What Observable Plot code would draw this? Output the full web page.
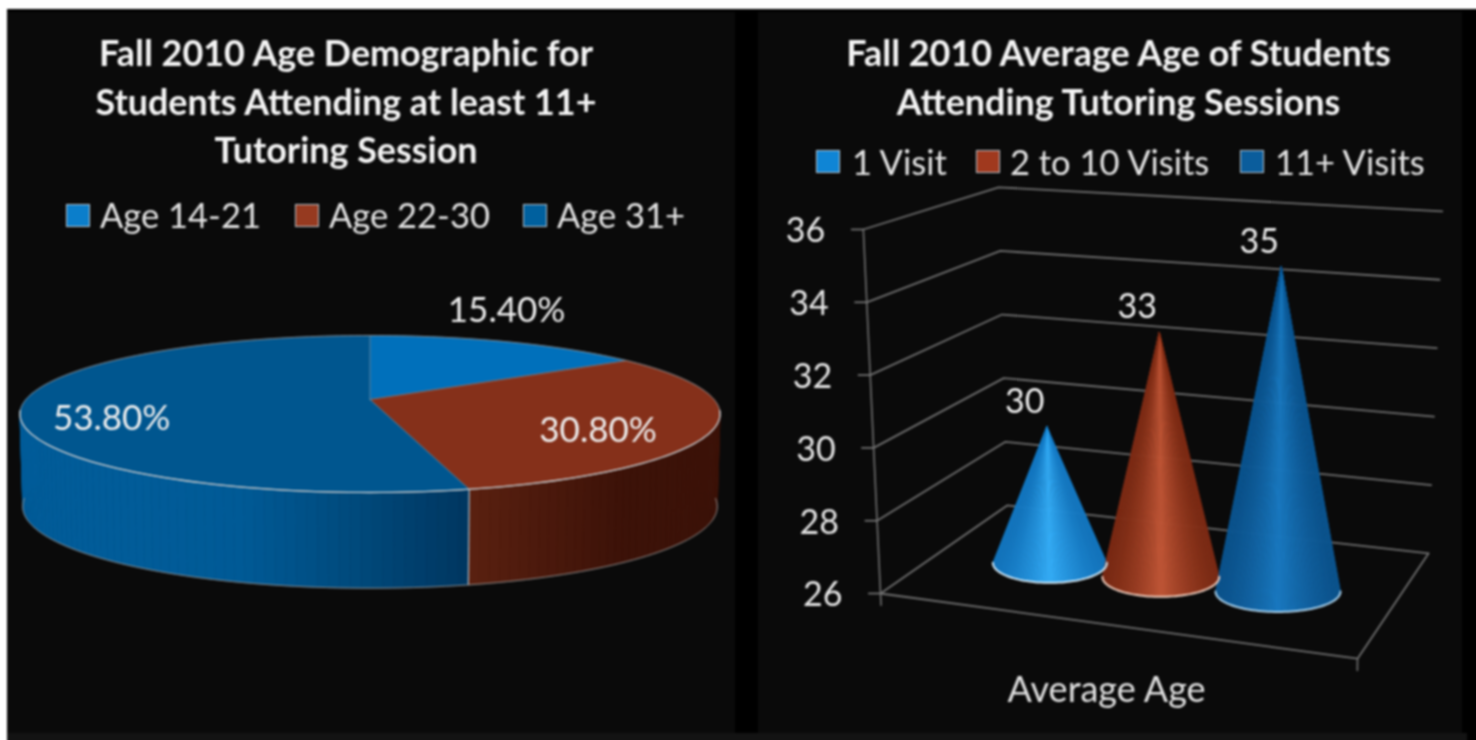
<!DOCTYPE html>
<html>
<head>
<meta charset="utf-8">
<script src="https://cdn.jsdelivr.net/npm/d3@7"></script>
<script src="https://cdn.jsdelivr.net/npm/@observablehq/plot@0.6"></script>
<style>
  html, body { margin: 0; padding: 0; background: #fff; width: 1476px; height: 740px; overflow: hidden; }
  #page { position: absolute; left: 0; top: 9px; width: 1490px; height: 745px; background: #000; filter: blur(0.8px);
          font-family: Lato, sans-serif; color: #f0f0f0; }
  .cover { position: absolute; background: #fff; left: -10px; top: 0; width: 17px; height: 745px; }
  .panel { position: absolute; top: 3px; height: 742px; background: #0a0a0a; }
  .foot { position: absolute; left: 7px; top: 724px; width: 1460px; height: 21px; background: #131313; }
  .title { position: absolute; top: 17px; transform: translateX(-50%); white-space: nowrap; text-align: center;
           font-weight: 700; font-size: 35.9px; line-height: 48.5px; color: #f4f4f4; }
  .legend-item { position: absolute; display: flex; align-items: center; height: 40px; font-size: 34.5px; white-space: nowrap; color: #e4e4e4; }
  .swatch { position: absolute; left: 0; width: 22px; height: 21px; border: 1.5px solid #b9c6cf; }
  svg { position: absolute; overflow: visible; }
</style>
</head>
<body>
<div id="page"><div class="cover"></div>
  <div class="panel" id="left" style="left:7px;width:728px"></div>
  <div class="panel" id="right" style="left:758px;width:704px"></div>
  <div class="foot"></div>
</div>
<script>
// ---- left chart data
const ageTitle = ["Fall 2010 Age Demographic for", "Students Attending at least 11+", "Tutoring Session"];
const ageGroups = ["Age 14-21", "Age 22-30", "Age 31+"];
const ageShares = [15.4, 30.8, 53.8];
const ageLabels = ["15.40%", "30.80%", "53.80%"];
const ageColors = ["#0070bb", "#85301a", "#00568f"];
const ageSwatches = ["#0b7ecb", "#963a20", "#00609e"];
// ---- right chart data
const visitTitle = ["Fall 2010 Average Age of Students", "Attending Tutoring Sessions"];
const visitGroups = ["1 Visit", "2 to 10 Visits", "11+ Visits"];
const avgAge = [30, 33, 35];
const visitSwatches = ["#0f85d5", "#a0391e", "#0b5d9c"];
const ageTicks = [26, 28, 30, 32, 34, 36];
const categoryLabel = "Average Age";

// ---- layout of the header text
function header(panel, lines, cx, items) {
  const t = document.createElement("div");
  t.className = "title"; t.style.left = cx + "px"; t.innerHTML = lines.join("<br>");
  panel.appendChild(t);
  for (const it of items) {
    const d = document.createElement("div");
    d.className = "legend-item";
    d.style.left = it.left + "px"; d.style.top = it.top + "px"; d.style.paddingLeft = it.pad + "px";
    d.textContent = it.label;
    const s = document.createElement("span");
    s.className = "swatch"; s.style.background = it.color; s.style.top = it.st + "px";
    d.appendChild(s);
    panel.appendChild(d);
  }
}
const leftPanel = document.getElementById("left"), rightPanel = document.getElementById("right");
const leftLegendX = [59, 288, 516], rightLegendX = [58, 218, 482];
header(leftPanel, ageTitle, 339, ageGroups.map((label, i) => ({label, color: ageSwatches[i], left: leftLegendX[i], top: 182, pad: 34, st: 10})));
header(rightPanel, visitTitle, 360.5, visitGroups.map((label, i) => ({label, color: visitSwatches[i], left: rightLegendX[i], top: 129, pad: [36, 34, 35][i], st: 9})));

// ---- perspective disc for the pie (unit disc, angle clockwise from the top)
const persp = 0.185, depthShift = 1.214, depthScaleY = 1.04, depthScaleX = 0.992;
const disc = (deg, r = 1) => {
  const a = deg * Math.PI / 180, u = r * Math.sin(a), v = -r * Math.cos(a), w = 1 - persp * v;
  return {x: u / w, y: v / w, v};
};
const under = (p) => ({x: p.x * depthScaleX, y: p.y * depthScaleY + depthShift, v: p.v});
let acc = 0;
const slices = ageShares.map((s, i) => {
  const start = acc / 100 * 360; acc += s; const end = acc / 100 * 360;
  return {i, start, end};
});
const arcAngles = (a, b, step = 1.5) => {
  const n = Math.max(2, Math.ceil((b - a) / step));
  return d3.range(n + 1).map(k => a + (b - a) * k / n);
};
const sidePaint = [
  () => "#000",
  (x) => d3.interpolateRgb("#5a2010", "#3c1208")(Math.min(1, x / 0.45)),
  (x) => d3.piecewise(d3.interpolateRgb, ["#003660", "#004a7c", "#005a96", "#015c99"])(Math.min(1, x / 1.0))
];
const sideQuads = [];
for (const sl of slices) {
  const as = arcAngles(sl.start, sl.end);
  for (let k = 0; k < as.length - 1; k++) {
    const p1 = disc(as[k]), p2 = disc(as[k + 1]);
    if ((p1.v + p2.v) / 2 < -0.12) continue;
    const fromSeam = Math.abs((p1.x + p2.x) / 2 - disc(slices[1].end).x);
    const color = sidePaint[sl.i](fromSeam);
    const id = sl.i + "-" + k, vm = (p1.v + p2.v) / 2;
    sideQuads.push({id, vm, color, pts: [p1, p2, under(p2), under(p1), p1]});
  }
}
sideQuads.sort((a, b) => a.vm - b.vm);
const sideRows = sideQuads.flatMap(q => q.pts.map(p => ({id: q.id, color: q.color, x: p.x, y: p.y})));
const topRows = slices.flatMap(sl => [{x: 0, y: 0}, ...arcAngles(sl.start, sl.end).map(a => disc(a)), {x: 0, y: 0}]
  .map(p => ({id: sl.i, color: ageColors[sl.i], x: p.x, y: p.y})));
const rimRows = arcAngles(0, 360).map(a => disc(a));
const frontBottom = arcAngles(95, 265).map(a => under(disc(a)));
const frontTop = arcAngles(98, 262).map(a => disc(a));
const seam = disc(slices[1].end);
const labelAt = [{x: 0.397, y: -1.17}, {x: 0.663, y: 0.41}, {x: -0.751, y: 0.25}];

const piePlot = Plot.plot({
  width: 728, height: 495, margin: 0,
  style: {background: "transparent", overflow: "visible"},
  x: {domain: [-1, 1], range: [18.5, 706.5], axis: null},
  y: {domain: [-1, 1], range: [80.2, 231.8], axis: null},
  color: {type: "identity"},
  marks: [
    Plot.line(sideRows, {x: "x", y: "y", z: "id", fill: "color", stroke: "color", strokeWidth: 0.7}),
    Plot.line(frontBottom, {x: "x", y: "y", stroke: "#8d8d8d", strokeWidth: 1}),
    Plot.link([seam], {x1: "x", y1: "y", x2: d => under(d).x, y2: d => under(d).y, stroke: "#b9bfc4", strokeWidth: 1.2}),
    Plot.line(topRows, {x: "x", y: "y", z: "id", fill: "color", stroke: "color", strokeWidth: 0.6}),
    Plot.line(slices.flatMap(sl => [{id: sl.i, ...disc(sl.start)}, {id: sl.i, x: 0, y: 0}]), {x: "x", y: "y", z: "id", stroke: "#7f95a5", strokeWidth: 0.7}),
    Plot.line(rimRows, {x: "x", y: "y", stroke: "#8a8f94", strokeWidth: 1}),
    Plot.line(frontTop, {x: "x", y: "y", stroke: "#c9ced2", strokeWidth: 1.3}),
    Plot.text(ageLabels, {x: (d, i) => labelAt[i].x, y: (d, i) => labelAt[i].y, text: d => d,
      fill: "#efefef", fontSize: 35, fontFamily: "Lato, sans-serif"})
  ]
});
piePlot.style.left = "0px"; piePlot.style.top = "231px";
leftPanel.appendChild(piePlot);

// ---- 3D box for the cone chart: x is a share of the front floor edge, y is in axis units
const corners = {
  F: {x: 0, y: 26, lean: -0.0036, rise: 1},
  FR: {x: 1, y: 24.21, lean: 0.001, rise: 1.088},
  B: {x: 0.2656, y: 28.42, lean: -0.0018, rise: 0.874},
  R: {x: 1.1488, y: 27.10, lean: 0.0029, rise: 0.94}
};
const cornerAt = (c, n) => [c.x + c.lean * (n - 26), c.y + c.rise * (n - 26)];
const box = (s, d, n) => {
  const bi = (k) => (1 - d) * ((1 - s) * cornerAt(corners.F, n)[k] + s * cornerAt(corners.FR, n)[k])
    + d * ((1 - s) * cornerAt(corners.B, n)[k] + s * cornerAt(corners.R, n)[k]);
  return {x: bi(0), y: bi(1)};
};
const gridRows = ageTicks.flatMap(n => [box(0, 0, n), box(0, 1, n), box(1, 1, n)].map(p => ({n, ...p})));
const floorRows = [box(0, 0, 26), box(1, 0, 26), box(1, 1, 26)];
const tickRows = ageTicks.map(n => ({n, ...box(0, 0, n)}));
const axisRows = [box(0, 0, 36), box(0, 0, 25.68)];
const cornerTick = [box(1, 0, 26), box(1, 0, 25.7)];

const coneS = [0.236, 0.483, 0.744];
const coneRx = [0.1195, 0.1225, 0.131];
const coneRy = [0.55, 0.55, 0.56];
const coneTipFit = [-0.09, -0.11, -0.03];
const coneEdge = ["#1478c2", "#7e2c15", "#0c5590"];
const coneLight = ["#35aef8", "#c25737", "#1a7ac2"];
const coneRim = ["#cfe6f4", "#eccabb", "#a9d0ea"];
const coneTip = (age, i) => {
  const t = box(coneS[i], 0.5, age);
  return {x: t.x, y: t.y + coneTipFit[i]};
};
const coneRows = [], rimCone = [];
avgAge.forEach((age, i) => {
  const base = box(coneS[i], 0.5, 26), tip = coneTip(age, i);
  const steps = 60, paint = d3.interpolateRgb(coneEdge[i], coneLight[i]);
  const pt = (k) => {
    const a = Math.PI * k / steps;
    return {x: base.x + coneRx[i] * Math.cos(a), y: base.y - coneRy[i] * Math.sin(a), c: Math.cos(a)};
  };
  for (let k = 0; k < steps; k++) {
    const a = pt(k), b = pt(k + 1);
    const m = Math.abs((a.c + b.c) / 2);
    const color = paint(Math.pow(1 - m, 1.6));
    const id = i * 100 + k;
    [tip, a, b, tip].forEach(p => coneRows.push({id, color, order: i, x: p.x, y: p.y}));
  }
  for (let k = 0; k <= steps; k++) {
    const a = pt(k);
    rimCone.push({id: i, color: coneRim[i], x: a.x, y: a.y});
  }
});

const conePlot = Plot.plot({
  width: 704, height: 552, margin: 0,
  style: {background: "transparent", overflow: "visible"},
  x: {domain: [0, 1], range: [122, 599], axis: null},
  y: {domain: [26, 36], range: [410, 46], axis: null},
  color: {type: "identity"},
  marks: [
    Plot.line(gridRows, {x: "x", y: "y", z: "n", stroke: "#6f6f6f", strokeWidth: 1.8}),
    Plot.line(floorRows, {x: "x", y: "y", stroke: "#6f6f6f", strokeWidth: 1.8}),
    Plot.line(axisRows, {x: "x", y: "y", stroke: "#6f6f6f", strokeWidth: 1.6}),
    Plot.line(cornerTick, {x: "x", y: "y", stroke: "#6f6f6f", strokeWidth: 1.6}),
    Plot.link(tickRows, {x1: "x", y1: "y", x2: d => d.x - 0.026, y2: "y", stroke: "#7a7a7a", strokeWidth: 1.6}),
    Plot.line(coneRows, {x: "x", y: "y", z: "id", fill: "color", stroke: "color", strokeWidth: 0.6}),
    Plot.line(rimCone, {x: "x", y: "y", z: "id", stroke: "color", strokeWidth: 2}),
    Plot.text(tickRows, {x: "x", y: "y", text: "n", textAnchor: "end", dx: -38, dy: 2, fill: "#e6e6e6", fontSize: 34, fontFamily: "Lato, sans-serif"}),
    Plot.text(avgAge, {x: (d, i) => coneTip(d, i).x, y: (d, i) => coneTip(d, i).y, text: d => String(d),
      dx: -22, dy: -25, fill: "#ececec", fontSize: 34, fontFamily: "Lato, sans-serif"}),
    Plot.text([categoryLabel], {x: 0.474, y: 23.33, text: d => d, fill: "#e0e0e0", fontSize: 36, fontFamily: "Lato, sans-serif"})
  ]
});
conePlot.style.left = "0px"; conePlot.style.top = "171px";
rightPanel.appendChild(conePlot);
</script>
</body>
</html>
